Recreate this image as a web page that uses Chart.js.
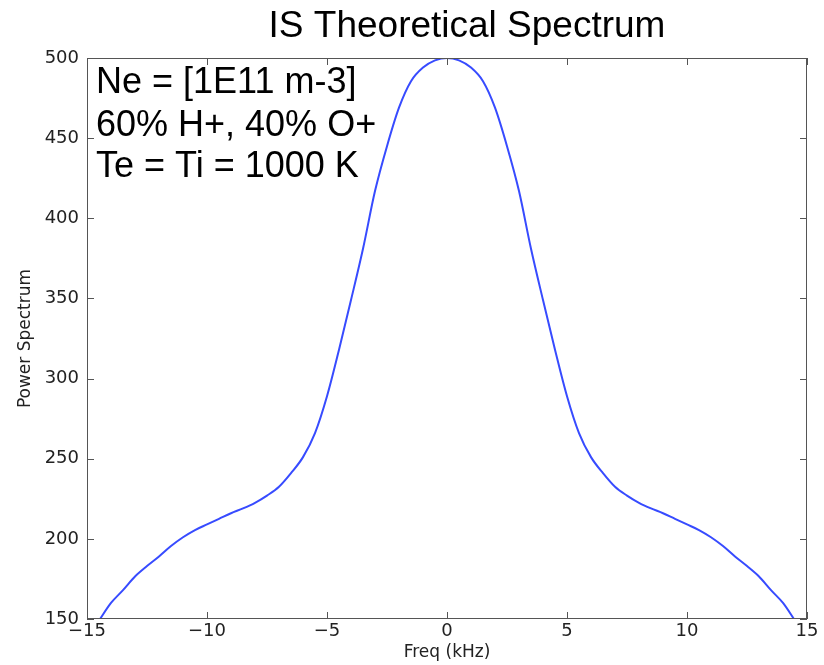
<!DOCTYPE html>
<html>
<head>
<meta charset="utf-8">
<title>IS Theoretical Spectrum</title>
<script src="https://cdn.jsdelivr.net/npm/chart.js@4/dist/chart.umd.min.js"></script>
<style>
  html, body { margin: 0; padding: 0; background: #fff; }
  #wrap { width: 824px; height: 665px; position: relative; }
</style>
</head>
<body>
<div id="wrap"><canvas id="spectrum"></canvas></div>
<script>
// values
const freqKHz = [
  -14.5, -14, -13.5, -13, -12.5, -12, -11.5, -11, -10.5, -10,
  -9.5, -9, -8.5, -8, -7.5, -7, -6.5, -6, -5.5, -5,
  -4.5, -4, -3.5, -3, -2.5, -2, -1.5, -1, -0.5, 0,
  0.5, 1, 1.5, 2, 2.5, 3, 3.5, 4, 4.5, 5,
  5.5, 6, 6.5, 7, 7.5, 8, 8.5, 9, 9.5, 10,
  10.5, 11, 11.5, 12, 12.5, 13, 13.5, 14, 14.5
];
const powerSpectrum = [
  149, 160, 168, 176.5, 183, 189, 195.5, 201, 205.5, 209,
  212.5, 216, 219, 222.5, 227, 232.5, 241, 251, 266, 289,
  318, 349, 381, 417, 445, 469, 485.5, 494, 498.5, 500,
  498.5, 494, 485.5, 469, 445, 417, 381, 349, 318, 289,
  266, 251, 241, 232.5, 227, 222.5, 219, 216, 212.5, 209,
  205.5, 201, 195.5, 189, 183, 176.5, 168, 160, 149
];
const xTicks = [-15, -10, -5, 0, 5, 10, 15];
const yTicks = [150, 200, 250, 300, 350, 400, 450, 500];
const titleText = 'IS Theoretical Spectrum';
const noteLines = ['Ne = [1E11 m-3]', '60% H+, 40% O+', 'Te = Ti = 1000 K'];

const axisColor = '#555';
const tickFont = { family: 'DejaVu Sans', size: 18 };

// frame + inward ticks on all four sides, like matplotlib
const frameTicks = {
  id: 'frameTicks',
  afterDatasetsDraw(chart) {
    const { ctx, chartArea: a, scales } = chart;
    const len = 7;
    ctx.save();
    ctx.strokeStyle = axisColor;
    ctx.lineWidth = 1;
    ctx.strokeRect(a.left + 0.5, a.top + 0.5, a.right - a.left - 1, a.bottom - a.top - 1);
    ctx.beginPath();
    xTicks.forEach(v => {
      const px = Math.round(scales.x.getPixelForValue(v)) + 0.5;
      ctx.moveTo(px, a.bottom); ctx.lineTo(px, a.bottom - len);
      ctx.moveTo(px, a.top); ctx.lineTo(px, a.top + len);
    });
    yTicks.forEach(v => {
      const py = Math.round(scales.y.getPixelForValue(v)) + 0.5;
      ctx.moveTo(a.left, py); ctx.lineTo(a.left + len, py);
      ctx.moveTo(a.right, py); ctx.lineTo(a.right - len, py);
    });
    ctx.stroke();
    ctx.restore();
  }
};

const textLayer = {
  id: 'textLayer',
  afterDraw(chart) {
    const { ctx } = chart;
    ctx.save();
    ctx.fillStyle = '#000';
    ctx.textBaseline = 'alphabetic';
    ctx.font = '37px "Liberation Sans", Arial, sans-serif';
    ctx.textAlign = 'center';
    ctx.fillText(titleText, 467, 37);
    ctx.font = '36px "Liberation Sans", Arial, sans-serif';
    ctx.textAlign = 'left';
    const baselines = [93, 136, 177];
    noteLines.forEach((t, i) => ctx.fillText(t, 96, baselines[i]));
    ctx.restore();
  }
};

new Chart(document.getElementById('spectrum'), {
  type: 'line',
  data: {
    datasets: [{
      label: 'Power Spectrum',
      data: freqKHz.map((f, i) => ({ x: f, y: powerSpectrum[i] })),
      borderColor: 'rgb(55, 75, 255)',
      borderWidth: 2,
      pointRadius: 0,
      cubicInterpolationMode: 'monotone',
      fill: false
    }]
  },
  options: {
    responsive: true,
    maintainAspectRatio: false,
    animation: false,
    layout: { padding: { top: 58, right: 17, left: 0, bottom: 0 } },
    plugins: {
      legend: { display: false },
      tooltip: { enabled: false }
    },
    scales: {
      x: {
        type: 'linear',
        min: -15,
        max: 15,
        afterBuildTicks: (scale) => { scale.ticks = xTicks.map(v => ({ value: v })); },
        afterFit: (scale) => { scale.height = 46; },
        grid: { display: false, drawTicks: false },
        border: { display: false },
        ticks: {
          color: '#222',
          font: tickFont,
          padding: 2,
          maxRotation: 0,
          callback: (v) => (v < 0 ? '\u2212' + Math.abs(v) : String(v))
        },
        title: {
          display: true,
          text: 'Freq (kHz)',
          color: '#222',
          font: { family: 'DejaVu Sans', size: 17 },
          padding: { top: 0, bottom: 2 }
        }
      },
      y: {
        type: 'linear',
        min: 150,
        max: 500,
        afterBuildTicks: (scale) => { scale.ticks = yTicks.map(v => ({ value: v })); },
        afterFit: (scale) => { scale.width = 87; },
        grid: { display: false, drawTicks: false },
        border: { display: false },
        ticks: {
          color: '#222',
          font: tickFont,
          padding: 8
        },
        title: {
          display: true,
          text: 'Power Spectrum',
          color: '#222',
          font: { family: 'DejaVu Sans', size: 17 },
          padding: { top: 15, bottom: 0 }
        }
      }
    }
  },
  plugins: [frameTicks, textLayer]
});
</script>
</body>
</html>
